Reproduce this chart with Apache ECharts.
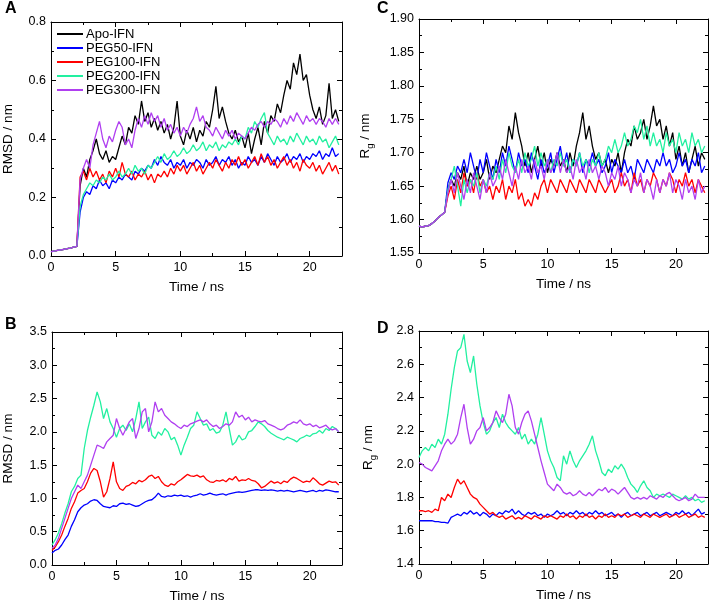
<!DOCTYPE html>
<html><head><meta charset="utf-8">
<script src="https://cdn.jsdelivr.net/npm/echarts@6/dist/echarts.min.js"></script>
<style>html,body{margin:0;padding:0;background:#fff}#c{width:711px;height:604px}</style>
</head><body><div id="c"></div><script>
// ---- data ----
const time = [0,0.25,0.5,0.75,1,1.25,1.5,1.75,2,2.25,2.5,2.75,3,3.25,3.5,3.75,4,4.25,4.5,4.75,5,5.25,5.5,5.75,6,6.25,6.5,6.75,7,7.25,7.5,7.75,8,8.25,8.5,8.75,9,9.25,9.5,9.75,10,10.25,10.5,10.75,11,11.25,11.5,11.75,12,12.25,12.5,12.75,13,13.25,13.5,13.75,14,14.25,14.5,14.75,15,15.25,15.5,15.75,16,16.25,16.5,16.75,17,17.25,17.5,17.75,18,18.25,18.5,18.75,19,19.25,19.5,19.75,20,20.25,20.5,20.75,21,21.25,21.5,21.75,22,22.25];
const seriesNames = ['Apo-IFN','PEG50-IFN','PEG100-IFN','PEG200-IFN','PEG300-IFN'];
const xTickLabels = [0,5,10,15,20];

// Panel A: RMSD (nm)
const rmsdA_apo = [0.015,0.017,0.019,0.021,0.023,0.025,0.027,0.030,0.033,0.24,
 0.30,0.27,0.33,0.36,0.40,0.35,0.33,0.36,0.32,0.34,
 0.33,0.37,0.41,0.38,0.44,0.42,0.48,0.45,0.53,0.46,
 0.49,0.44,0.47,0.43,0.46,0.42,0.45,0.40,0.44,0.53,
 0.41,0.38,0.43,0.40,0.44,0.39,0.43,0.41,0.46,0.44,
 0.50,0.58,0.47,0.51,0.46,0.42,0.40,0.43,0.39,0.41,
 0.37,0.42,0.35,0.40,0.44,0.38,0.46,0.42,0.48,0.46,
 0.52,0.49,0.55,0.60,0.57,0.66,0.62,0.69,0.60,0.62,
 0.55,0.50,0.47,0.51,0.45,0.48,0.59,0.47,0.50,0.46];
const rmsdA_p50 = [0.015,0.017,0.019,0.021,0.023,0.025,0.027,0.030,0.033,0.15,
 0.20,0.22,0.21,0.24,0.23,0.26,0.24,0.25,0.23,0.26,
 0.25,0.27,0.26,0.28,0.27,0.26,0.29,0.28,0.30,0.29,
 0.31,0.30,0.33,0.31,0.34,0.32,0.31,0.33,0.30,0.32,
 0.31,0.33,0.30,0.32,0.31,0.33,0.32,0.30,0.33,0.31,
 0.32,0.34,0.31,0.33,0.32,0.34,0.31,0.33,0.30,0.32,
 0.31,0.34,0.32,0.33,0.31,0.34,0.32,0.35,0.33,0.31,
 0.34,0.32,0.33,0.35,0.32,0.34,0.33,0.35,0.32,0.34,
 0.33,0.35,0.34,0.36,0.33,0.35,0.34,0.37,0.34,0.35];
const rmsdA_p100 = [0.015,0.017,0.019,0.021,0.023,0.025,0.027,0.030,0.033,0.27,
 0.29,0.26,0.30,0.27,0.29,0.26,0.28,0.25,0.29,0.27,
 0.30,0.27,0.32,0.28,0.27,0.29,0.26,0.28,0.27,0.29,
 0.26,0.28,0.25,0.28,0.27,0.29,0.27,0.30,0.28,0.31,
 0.29,0.31,0.28,0.30,0.32,0.29,0.31,0.28,0.30,0.32,
 0.30,0.33,0.31,0.29,0.32,0.30,0.33,0.31,0.34,0.31,
 0.33,0.30,0.32,0.34,0.31,0.35,0.32,0.34,0.31,0.33,
 0.30,0.32,0.34,0.31,0.33,0.30,0.32,0.29,0.33,0.31,
 0.30,0.32,0.29,0.31,0.28,0.30,0.32,0.29,0.31,0.28];
const rmsdA_p200 = [0.015,0.017,0.019,0.021,0.023,0.025,0.027,0.030,0.033,0.17,
 0.21,0.23,0.25,0.24,0.26,0.25,0.27,0.26,0.28,0.26,
 0.27,0.29,0.27,0.28,0.30,0.28,0.31,0.29,0.30,0.28,
 0.31,0.30,0.32,0.34,0.32,0.35,0.33,0.34,0.36,0.34,
 0.35,0.37,0.35,0.36,0.38,0.36,0.37,0.39,0.36,0.38,
 0.37,0.39,0.36,0.38,0.37,0.39,0.38,0.40,0.38,0.41,
 0.40,0.44,0.42,0.46,0.44,0.47,0.49,0.42,0.40,0.38,
 0.41,0.39,0.40,0.38,0.41,0.39,0.42,0.40,0.38,0.41,
 0.39,0.40,0.38,0.41,0.39,0.40,0.37,0.39,0.41,0.38];
const rmsdA_p300 = [0.015,0.017,0.019,0.021,0.023,0.025,0.027,0.030,0.033,0.26,
 0.30,0.33,0.30,0.38,0.42,0.46,0.40,0.37,0.41,0.39,
 0.43,0.46,0.44,0.38,0.40,0.37,0.43,0.47,0.44,0.48,
 0.45,0.49,0.46,0.48,0.44,0.47,0.43,0.45,0.42,0.44,
 0.41,0.44,0.42,0.45,0.47,0.51,0.46,0.48,0.44,0.43,
 0.41,0.44,0.42,0.40,0.43,0.41,0.43,0.40,0.42,0.41,
 0.40,0.42,0.44,0.43,0.45,0.46,0.44,0.46,0.45,0.47,
 0.46,0.44,0.47,0.45,0.48,0.46,0.49,0.47,0.45,0.48,
 0.46,0.47,0.45,0.47,0.46,0.44,0.47,0.45,0.47,0.45];

// Panel C: Rg (nm)
const rgC_apo = [1.590,1.589,1.590,1.591,1.594,1.598,1.603,1.607,1.611,1.645,
 1.66,1.65,1.67,1.66,1.68,1.65,1.67,1.66,1.68,1.66,
 1.67,1.69,1.66,1.68,1.67,1.69,1.71,1.70,1.74,1.72,
 1.76,1.73,1.71,1.68,1.70,1.67,1.69,1.71,1.68,1.70,
 1.67,1.69,1.68,1.70,1.68,1.69,1.67,1.70,1.68,1.71,
 1.73,1.76,1.72,1.74,1.71,1.69,1.70,1.68,1.69,1.67,
 1.69,1.68,1.70,1.67,1.70,1.72,1.71,1.74,1.72,1.73,
 1.75,1.72,1.74,1.77,1.74,1.75,1.72,1.74,1.71,1.73,
 1.69,1.71,1.68,1.70,1.67,1.69,1.71,1.68,1.70,1.69];
const rgC_p50 = [1.590,1.589,1.590,1.591,1.594,1.598,1.603,1.607,1.611,1.655,
 1.67,1.66,1.68,1.67,1.69,1.67,1.70,1.68,1.66,1.69,
 1.67,1.70,1.68,1.66,1.69,1.67,1.70,1.68,1.71,1.69,
 1.67,1.70,1.68,1.69,1.67,1.70,1.68,1.66,1.69,1.67,
 1.68,1.70,1.67,1.69,1.71,1.68,1.70,1.67,1.69,1.68,
 1.70,1.67,1.69,1.68,1.70,1.68,1.69,1.67,1.68,1.70,
 1.67,1.69,1.68,1.67,1.69,1.67,1.68,1.66,1.69,1.68,
 1.67,1.69,1.68,1.67,1.69,1.68,1.70,1.68,1.69,1.67,
 1.68,1.70,1.68,1.69,1.67,1.69,1.68,1.70,1.67,1.68];
const rgC_p100 = [1.590,1.589,1.590,1.591,1.594,1.598,1.603,1.607,1.611,1.635,
 1.65,1.63,1.66,1.64,1.67,1.65,1.66,1.64,1.67,1.65,
 1.66,1.64,1.65,1.63,1.65,1.64,1.66,1.63,1.65,1.64,
 1.66,1.63,1.64,1.62,1.63,1.62,1.64,1.63,1.65,1.66,
 1.64,1.66,1.65,1.64,1.66,1.65,1.64,1.66,1.65,1.64,
 1.66,1.65,1.64,1.66,1.65,1.64,1.66,1.65,1.64,1.65,
 1.66,1.64,1.65,1.67,1.65,1.66,1.64,1.67,1.65,1.66,
 1.64,1.66,1.65,1.67,1.66,1.64,1.66,1.65,1.67,1.66,
 1.64,1.66,1.65,1.67,1.65,1.66,1.64,1.66,1.65,1.64];
const rgC_p200 = [1.590,1.589,1.590,1.591,1.594,1.598,1.603,1.607,1.611,1.645,
 1.66,1.68,1.65,1.62,1.66,1.64,1.66,1.65,1.67,1.64,
 1.66,1.65,1.67,1.66,1.68,1.66,1.69,1.67,1.70,1.68,
 1.67,1.69,1.67,1.70,1.68,1.69,1.71,1.68,1.70,1.68,
 1.69,1.67,1.69,1.68,1.70,1.68,1.69,1.67,1.69,1.68,
 1.70,1.68,1.69,1.67,1.69,1.68,1.70,1.68,1.69,1.71,
 1.70,1.72,1.70,1.71,1.73,1.71,1.72,1.74,1.73,1.75,
 1.72,1.74,1.71,1.73,1.71,1.72,1.70,1.73,1.71,1.72,
 1.70,1.73,1.71,1.72,1.70,1.73,1.71,1.72,1.70,1.71];
const rgC_p300 = [1.590,1.589,1.590,1.591,1.594,1.598,1.603,1.607,1.611,1.64,
 1.66,1.64,1.67,1.65,1.63,1.66,1.64,1.67,1.65,1.63,
 1.66,1.64,1.67,1.65,1.66,1.68,1.66,1.69,1.67,1.65,
 1.68,1.66,1.69,1.67,1.68,1.66,1.69,1.67,1.68,1.66,
 1.69,1.67,1.68,1.70,1.67,1.69,1.67,1.68,1.66,1.69,
 1.67,1.68,1.66,1.69,1.67,1.68,1.66,1.68,1.67,1.65,
 1.67,1.66,1.68,1.65,1.67,1.66,1.64,1.66,1.65,1.67,
 1.64,1.66,1.65,1.63,1.66,1.64,1.66,1.65,1.67,1.64,
 1.66,1.65,1.63,1.66,1.64,1.65,1.63,1.66,1.64,1.65];

// Panel B: RMSD (nm), PEGylated
const rmsdB_p50 = [0.18,0.22,0.24,0.30,0.38,0.45,0.58,0.68,0.80,0.86,
 0.90,0.92,0.96,0.98,0.97,0.92,0.88,0.87,0.86,0.89,
 0.88,0.92,0.93,0.91,0.92,0.90,0.88,0.89,0.92,0.95,
 0.97,0.98,1.02,1.08,1.03,1.02,1.04,1.03,1.05,1.04,
 1.05,1.03,1.04,1.02,1.04,1.05,1.07,1.05,1.06,1.08,
 1.06,1.05,1.06,1.07,1.05,1.07,1.08,1.09,1.10,1.09,
 1.10,1.11,1.12,1.13,1.13,1.12,1.13,1.12,1.13,1.12,
 1.11,1.12,1.11,1.12,1.11,1.10,1.11,1.12,1.11,1.10,
 1.11,1.12,1.10,1.12,1.11,1.13,1.12,1.11,1.10,1.10];
const rmsdB_p100 = [0.22,0.27,0.35,0.45,0.58,0.70,0.85,0.95,1.08,1.12,
 1.15,1.25,1.38,1.45,1.42,1.25,1.02,1.10,1.30,1.55,
 1.25,1.15,1.12,1.18,1.20,1.24,1.22,1.27,1.25,1.28,
 1.33,1.35,1.30,1.33,1.25,1.20,1.18,1.22,1.20,1.25,
 1.28,1.32,1.36,1.34,1.33,1.35,1.32,1.34,1.28,1.25,
 1.24,1.27,1.26,1.28,1.25,1.30,1.28,1.33,1.26,1.28,
 1.27,1.30,1.27,1.26,1.22,1.16,1.18,1.22,1.26,1.23,
 1.25,1.22,1.26,1.24,1.29,1.32,1.30,1.27,1.24,1.26,
 1.25,1.31,1.27,1.22,1.20,1.23,1.26,1.24,1.25,1.20];
const rmsdB_p200 = [0.30,0.38,0.48,0.62,0.78,0.92,1.10,1.18,1.30,1.35,
 1.75,2.02,2.22,2.40,2.60,2.45,2.20,2.35,2.15,2.05,
 1.92,2.05,2.10,2.02,2.12,2.00,2.20,2.45,2.05,2.15,
 2.22,1.95,1.90,2.00,1.95,2.05,2.00,1.88,1.92,1.80,
 1.65,1.80,1.92,2.05,2.10,2.30,2.20,2.10,2.12,2.02,
 2.05,1.98,2.00,2.10,2.30,2.05,1.80,1.85,1.95,1.88,
 1.90,2.00,2.02,2.08,2.15,2.12,2.08,2.02,1.98,1.95,
 1.92,1.90,1.88,1.92,1.90,1.88,1.85,1.90,1.92,1.95,
 1.93,1.97,1.98,2.02,1.98,2.05,2.02,2.08,2.05,2.00];
const rmsdB_p300 = [0.25,0.30,0.40,0.55,0.70,0.85,1.00,1.10,1.20,1.15,
 1.25,1.35,1.50,1.65,1.80,1.78,1.75,1.85,1.90,1.95,
 2.20,2.05,1.95,2.05,2.15,2.20,1.90,2.05,2.30,2.35,
 2.00,2.15,2.45,2.30,2.35,2.25,2.20,2.15,2.12,2.08,
 2.05,2.10,2.08,2.12,2.14,2.16,2.18,2.15,2.18,2.12,
 2.08,2.10,2.05,2.08,2.12,2.10,2.15,2.30,2.22,2.25,
 2.18,2.22,2.15,2.18,2.16,2.15,2.17,2.12,2.10,2.08,
 2.05,2.03,2.05,2.10,2.12,2.15,2.13,2.18,2.12,2.10,
 2.12,2.08,2.10,2.06,2.08,2.10,2.05,2.03,2.05,2.00];

// Panel D: Rg (nm), PEGylated
const rgD_p50 = [1.66,1.66,1.66,1.66,1.66,1.655,1.655,1.65,1.65,1.645,
 1.68,1.69,1.70,1.69,1.71,1.70,1.72,1.70,1.71,1.69,
 1.71,1.70,1.68,1.70,1.69,1.71,1.70,1.72,1.71,1.73,
 1.70,1.72,1.70,1.69,1.71,1.70,1.71,1.69,1.70,1.68,
 1.70,1.69,1.70,1.72,1.70,1.71,1.69,1.71,1.70,1.72,
 1.70,1.71,1.69,1.71,1.70,1.72,1.70,1.71,1.69,1.70,
 1.71,1.69,1.70,1.68,1.70,1.71,1.69,1.70,1.71,1.69,
 1.70,1.71,1.69,1.70,1.71,1.69,1.70,1.71,1.70,1.69,
 1.71,1.70,1.72,1.70,1.71,1.69,1.71,1.73,1.70,1.71];
const rgD_p100 = [1.72,1.72,1.715,1.72,1.71,1.73,1.72,1.80,1.78,1.82,
 1.80,1.86,1.91,1.88,1.90,1.86,1.82,1.80,1.79,1.76,
 1.74,1.72,1.70,1.71,1.69,1.68,1.69,1.67,1.68,1.69,
 1.67,1.68,1.67,1.69,1.68,1.67,1.69,1.68,1.67,1.69,
 1.68,1.69,1.68,1.67,1.69,1.68,1.70,1.68,1.69,1.67,
 1.69,1.68,1.70,1.68,1.69,1.67,1.69,1.68,1.70,1.68,
 1.69,1.68,1.70,1.69,1.70,1.68,1.69,1.70,1.69,1.68,
 1.70,1.69,1.68,1.70,1.69,1.68,1.69,1.70,1.68,1.69,
 1.70,1.68,1.69,1.70,1.68,1.69,1.70,1.68,1.69,1.68];
const rgD_p200 = [2.04,2.08,2.10,2.08,2.12,2.10,2.15,2.12,2.18,2.30,
 2.45,2.58,2.68,2.70,2.78,2.62,2.55,2.65,2.48,2.35,
 2.25,2.18,2.20,2.25,2.28,2.22,2.30,2.25,2.22,2.20,
 2.18,2.22,2.15,2.18,2.12,2.15,2.12,2.18,2.28,2.18,
 2.08,2.02,1.98,1.92,1.90,2.05,2.00,2.08,2.02,1.98,
 2.02,2.05,2.08,2.12,2.17,2.08,2.02,1.95,1.93,1.97,
 1.95,1.99,1.97,2.00,1.97,1.92,1.88,1.86,1.83,1.87,
 1.90,1.86,1.84,1.80,1.82,1.81,1.82,1.81,1.80,1.82,
 1.81,1.80,1.79,1.81,1.79,1.80,1.78,1.79,1.77,1.78];
const rgD_p300 = [2.01,2.00,1.98,1.97,1.96,1.99,2.02,2.08,2.12,2.15,
 2.12,2.14,2.18,2.28,2.36,2.22,2.12,2.15,2.20,2.22,
 2.28,2.20,2.22,2.25,2.32,2.28,2.25,2.30,2.42,2.35,
 2.22,2.18,2.25,2.30,2.32,2.26,2.18,2.10,2.02,1.95,
 1.88,1.86,1.84,1.88,1.86,1.83,1.82,1.83,1.81,1.82,
 1.84,1.82,1.81,1.83,1.81,1.83,1.85,1.84,1.86,1.83,
 1.85,1.84,1.82,1.84,1.86,1.83,1.80,1.79,1.80,1.79,
 1.80,1.79,1.81,1.80,1.79,1.81,1.80,1.82,1.83,1.81,
 1.79,1.78,1.79,1.80,1.78,1.79,1.82,1.80,1.80,1.80];

// ---- chart ----
const FF = '"Liberation Sans", Arial, sans-serif';
const colors = {'Apo-IFN':'#000000','PEG50-IFN':'#0000ff','PEG100-IFN':'#ff0000','PEG200-IFN':'#22f0a0','PEG300-IFN':'#b03ff0'};
const grids = [
  {left:50, top:22, width:292, height:234},
  {left:419, top:19, width:289, height:234},
  {left:51, top:332, width:291, height:234},
  {left:419, top:331, width:289, height:233}
];
const yCfg = [
  {min:0, max:0.8, interval:0.2, dec:1, name:'RMSD / nm', gap:36},
  {min:1.55, max:1.90, interval:0.05, dec:2, name:'{r|R}{s|g}{r| / nm}', gap:44},
  {min:0, max:3.5, interval:0.5, dec:1, name:'RMSD / nm', gap:37},
  {min:1.4, max:2.8, interval:0.2, dec:1, name:'{r|R}{s|g}{r| / nm}', gap:41}
];
const black = {color:'#000', width:1};
const xAxis = [], yAxis = [];
grids.forEach((g, gi) => {
  ['bottom','top'].forEach(pos => {
    xAxis.push({gridIndex:gi, type:'value', min:0, max:22.5, interval:5, position:pos,
      name: pos==='bottom' ? 'Time / ns' : '', nameLocation:'middle', nameGap:24,
      nameTextStyle:{fontSize:13.5, color:'#000', fontFamily:FF},
      axisLine:{show:true, onZero:false, lineStyle:black},
      axisTick:{show:true, inside:true, length:5, lineStyle:black},
      axisLabel:{show: pos==='bottom', color:'#000', fontSize:12.5, fontFamily:FF, margin:5, showMaxLabel:false,
        formatter: v => xTickLabels.includes(v) ? String(v) : ''},
      splitLine:{show:false}});
    xAxis.push({gridIndex:gi, type:'value', min:0, max:22.5, interval:2.5, position:pos,
      axisLine:{show:false, onZero:false},
      axisTick:{show:true, inside:true, length:3, lineStyle:black},
      axisLabel:{show:false}, splitLine:{show:false}});
  });
  const c = yCfg[gi];
  ['left','right'].forEach(pos => {
    yAxis.push({gridIndex:gi, type:'value', min:c.min, max:c.max, interval:c.interval, position:pos,
      name: pos==='left' ? c.name : '', nameLocation:'middle', nameGap:c.gap, nameRotate:90,
      nameTextStyle:{fontSize:13.5, color:'#000', fontFamily:FF,
        rich:{r:{fontSize:13.5, color:'#000', fontFamily:FF, lineHeight:20},
              s:{fontSize:9.5, color:'#000', fontFamily:FF, lineHeight:20, verticalAlign:'bottom', padding:[7,0,0,0]}}},
      axisLine:{show:true, onZero:false, lineStyle:black},
      axisTick:{show:true, inside:true, length:5, lineStyle:black},
      minorTick:{show:true, splitNumber:2, length:3, lineStyle:black},
      axisLabel:{show: pos==='left', color:'#000', fontSize:12.5, fontFamily:FF, margin:5,
        formatter: v => v.toFixed(c.dec)},
      splitLine:{show:false}});
  });
});

function mk(name, gi, arr) {
  return {name, type:'line', xAxisIndex: gi*4, yAxisIndex: gi*2, symbol:'none', showSymbol:false,
    animation:false, lineStyle:{width:1.3, color:colors[name]}, itemStyle:{color:colors[name]},
    data: time.map((t,i) => [t, arr[i]])};
}
const series = [
  mk('Apo-IFN',0,rmsdA_apo), mk('PEG50-IFN',0,rmsdA_p50), mk('PEG100-IFN',0,rmsdA_p100), mk('PEG200-IFN',0,rmsdA_p200), mk('PEG300-IFN',0,rmsdA_p300),
  mk('Apo-IFN',1,rgC_apo), mk('PEG50-IFN',1,rgC_p50), mk('PEG100-IFN',1,rgC_p100), mk('PEG200-IFN',1,rgC_p200), mk('PEG300-IFN',1,rgC_p300),
  mk('PEG50-IFN',2,rmsdB_p50), mk('PEG100-IFN',2,rmsdB_p100), mk('PEG200-IFN',2,rmsdB_p200), mk('PEG300-IFN',2,rmsdB_p300),
  mk('PEG50-IFN',3,rgD_p50), mk('PEG100-IFN',3,rgD_p100), mk('PEG200-IFN',3,rgD_p200), mk('PEG300-IFN',3,rgD_p300)
];

const chart = echarts.init(document.getElementById('c'), null, {renderer:'canvas'});
chart.setOption({
  backgroundColor:'#fff',
  animation:false,
  grid: grids.map(g => Object.assign({containLabel:false}, g)),
  xAxis, yAxis, series,
  legend:{data:seriesNames, orient:'vertical', left:57, top:27, padding:0, itemGap:0,
    icon:'rect', itemWidth:26, itemHeight:2, selectedMode:false,
    textStyle:{fontSize:13, color:'#000', fontFamily:FF, lineHeight:14, padding:[0,0,0,-2]}},
  graphic:[
    {type:'text', left:5, top:1, style:{text:'A', font:'bold 16px "Liberation Sans", Arial', fill:'#000'}},
    {type:'text', left:377, top:1, style:{text:'C', font:'bold 16px "Liberation Sans", Arial', fill:'#000'}},
    {type:'text', left:5, top:317, style:{text:'B', font:'bold 16px "Liberation Sans", Arial', fill:'#000'}},
    {type:'text', left:377, top:321, style:{text:'D', font:'bold 16px "Liberation Sans", Arial', fill:'#000'}}
  ]
});
</script></body></html>
